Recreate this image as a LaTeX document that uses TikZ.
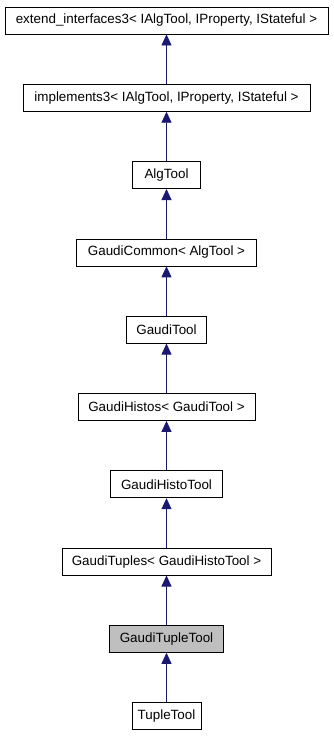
\documentclass[tikz,border=0pt]{standalone}
\usepackage{fontspec}
\setmainfont{Liberation Sans}
\usepackage{xcolor}
\usepackage{tikz}
\usetikzlibrary{arrows.meta,positioning}
\definecolor{edgeblue}{RGB}{25,25,112}
\definecolor{curgray}{RGB}{191,191,191}

\begin{document}
\begin{tikzpicture}[
  node distance=49.5pt,
  cls/.style={draw, line width=0.8pt, fill=white, align=center, minimum height=27pt, inner sep=2pt, font=\fontsize{13.4}{15}\selectfont},
  current/.style={cls, fill=curgray},
  inherit/.style={-{Triangle[length=11pt,width=10pt]}, line width=0.8pt, draw=edgeblue, fill=edgeblue}
]
\useasboundingbox (0,0) rectangle (333pt,-736pt);

\node[cls, minimum width=323pt] (ext) at (166.5pt,-20.5pt) {extend\_interfaces3< IAlgTool, IProperty, IStateful >};
\node[cls, minimum width=287pt, below=of ext] (impl) {implements3< IAlgTool, IProperty, IStateful >};
\node[cls, minimum width=68pt, below=of impl] (algtool) {AlgTool};
\node[cls, minimum width=180pt, below=of algtool] (common) {GaudiCommon< AlgTool >};
\node[cls, minimum width=80pt, below=of common] (gtool) {GaudiTool};
\node[cls, minimum width=177pt, below=of gtool] (histos) {GaudiHistos< GaudiTool >};
\node[cls, minimum width=112pt, below=of histos] (histotool) {GaudiHistoTool};
\node[cls, minimum width=209pt, below=of histotool] (tuples) {GaudiTuples< GaudiHistoTool >};
\node[current, minimum width=114pt, below=of tuples] (tupletool) {GaudiTupleTool};
\node[cls, minimum width=69pt, below=of tupletool] (tuple) {TupleTool};

% inheritance edges, child -> parent
\draw[inherit] (impl) -- (ext);
\draw[inherit] (algtool) -- (impl);
\draw[inherit] (common) -- (algtool);
\draw[inherit] (gtool) -- (common);
\draw[inherit] (histos) -- (gtool);
\draw[inherit] (histotool) -- (histos);
\draw[inherit] (tuples) -- (histotool);
\draw[inherit] (tupletool) -- (tuples);
\draw[inherit] (tuple) -- (tupletool);
\end{tikzpicture}
\end{document}
